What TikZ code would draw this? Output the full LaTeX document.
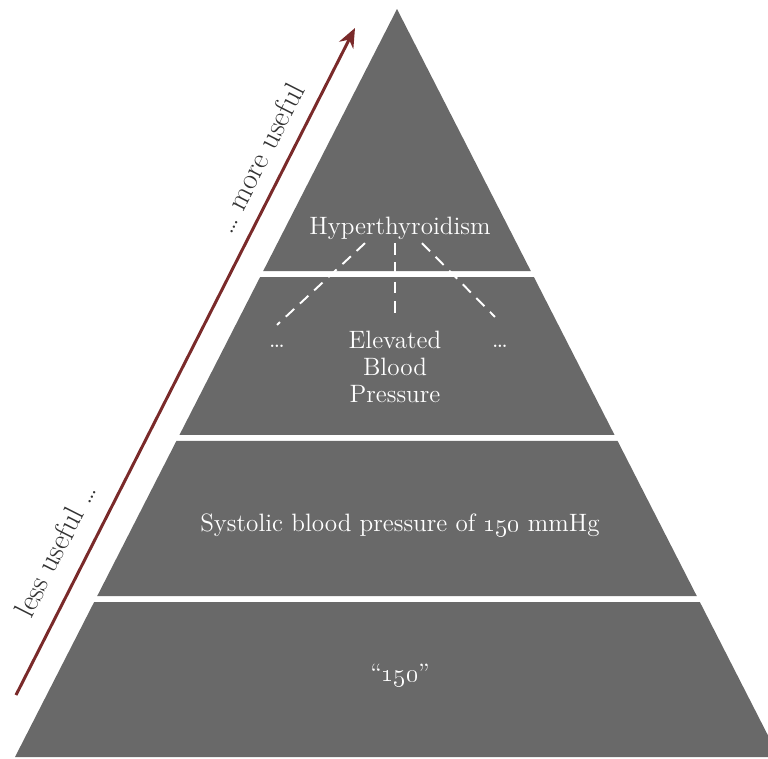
\documentclass[tikz,border=0pt]{standalone}
\usepackage{amsmath}
\usepackage{tikz}
\usetikzlibrary{arrows.meta,calc,positioning}
\definecolor{pyrgray}{RGB}{105,105,105}
\definecolor{arrowred}{RGB}{122,42,42}
\tikzstyle{band} = [fill=pyrgray]
\tikzstyle{level} = [text=white, font=\fontsize{14.3}{15.5}\selectfont, align=center, inner sep=2pt]
\tikzstyle{dashline} = [draw=white, line width=1.1pt, dash pattern=on 6.5pt off 4.5pt]
\tikzstyle{useline} = [draw=arrowred, line width=1.7pt, -{Stealth[length=11pt,width=9pt]}]
\tikzstyle{uselabel} = [text=black!80, font=\fontsize{17}{19}\selectfont, rotate=63.06, inner sep=1pt]

\begin{document}
\begin{tikzpicture}[x=0.02cm, y=-0.02cm]
	\useasboundingbox (0,0) rectangle (768,758);
	\clip (0,0) rectangle (768,758);
	
	% corners of the pyramid
	\coordinate (apex) at (397,9);
	\coordinate (bl) at (15,757);
	\coordinate (br) at (779,757);
	
	% bands
	\fill[band] (apex) -- ($(apex)!0.3503!(bl)$) -- ($(apex)!0.3503!(br)$) -- cycle;
	\fill[band] ($(apex)!0.3583!(bl)$) -- ($(apex)!0.5695!(bl)$) -- ($(apex)!0.5695!(br)$) -- ($(apex)!0.3583!(br)$) -- cycle;
	\fill[band] ($(apex)!0.5775!(bl)$) -- ($(apex)!0.7848!(bl)$) -- ($(apex)!0.7848!(br)$) -- ($(apex)!0.5775!(br)$) -- cycle;
	\fill[band] ($(apex)!0.7928!(bl)$) -- (bl) -- (br) -- ($(apex)!0.7928!(br)$) -- cycle;
	
	% labels
	\node [level] (hyper) at (400,228) {Hyperthyroidism};
	\node [level] (ebp) at (395,367) {Elevated\\Blood\\Pressure};
	\node [level] (dotsl) at (277,346) {\ldots};
	\node [level] (dotsr) at (500,346) {\ldots};
	\node [level] (sbp) at (400,525) {Systolic blood pressure of \oldstylenums{150} mmHg};
	\node [level] (raw) at (400,675) {``\oldstylenums{150}''};
	
	% Draw edges
	\path [dashline] ($(hyper.south)+(-35,0)$) -- ($(dotsl.north)+(0,-16)$);
	\path [dashline] ($(hyper.south)+(-5,0)$) -- ($(ebp.north)+(0,-8)$);
	\path [dashline] ($(hyper.south)+(22,0)$) -- ($(dotsr.north)+(-5,-24)$);
	
	% usefulness arrow
	\coordinate (lessend) at (16,695);
	\coordinate (moreend) at (355,28);
	\path [useline] (lessend) -- (moreend);
	\node [uselabel] (less) at (55,550) {less useful \ldots};
	\node [uselabel] (more) at (259,158) {\ldots\ more useful};
	
\end{tikzpicture}
\end{document}
